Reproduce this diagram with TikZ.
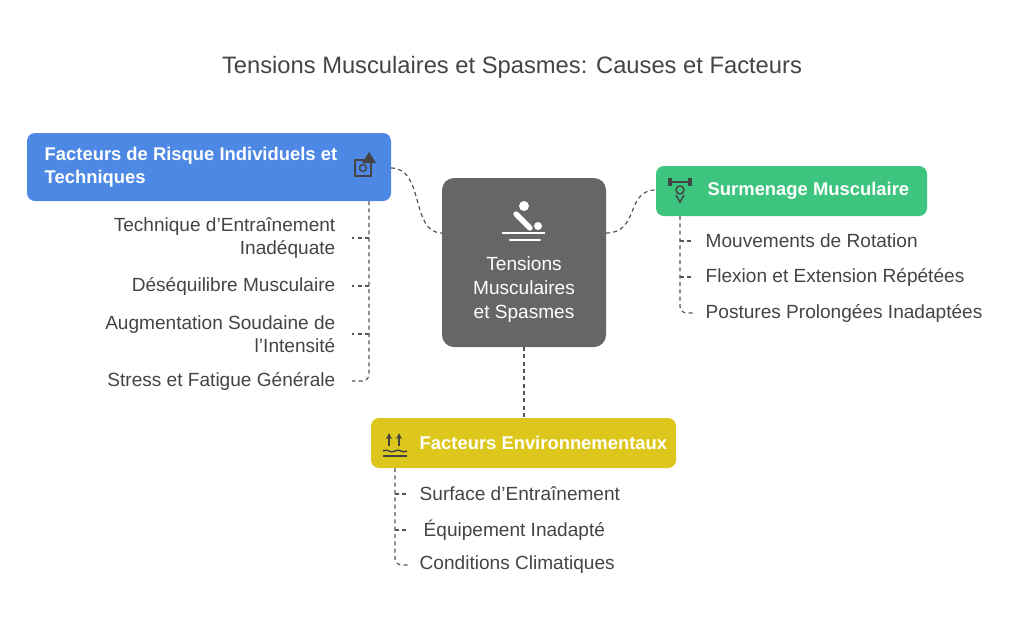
\documentclass[tikz,border=0pt]{standalone}
\usepackage{fontspec}
\setmainfont{Liberation Sans}
\usetikzlibrary{positioning}
\definecolor{boxblue}{HTML}{4D88E5}
\definecolor{boxgreen}{HTML}{3DC47E}
\definecolor{boxyellow}{HTML}{DDC71C}
\definecolor{boxgray}{HTML}{666666}
\definecolor{txt}{HTML}{444444}
\definecolor{lnk}{HTML}{555555}
\tikzset{
  box/.style={draw=none, rounded corners=6pt, anchor=north west},
  head/.style={text=white, font=\bfseries\fontsize{13.8}{17.5}\selectfont, align=left, anchor=west},
  item/.style={text=txt, font=\fontsize{14.3}{17.5}\selectfont},
  link/.style={draw=lnk, dashed, dash pattern=on 3pt off 2.5pt, line width=0.9pt},
  icon/.style={draw=txt, line width=1.1pt}
}
\begin{document}
\begin{tikzpicture}[x=0.75pt, y=-0.75pt]
\useasboundingbox (0,0) rectangle (1024,626);
% title
\node[text=txt, font=\fontsize{17.8}{20}\selectfont] (title) at (512,67) {Tensions Musculaires et Spasmes: Causes et Facteurs};
% boxes
\fill[boxblue, rounded corners=6pt] (27,133) rectangle (391,201);
\fill[boxgray, rounded corners=9pt] (442,178) rectangle (606,347);
\fill[boxgreen, rounded corners=6pt] (656,166) rectangle (927,216);
\fill[boxyellow, rounded corners=6pt] (371,418) rectangle (676,468);
% headings
\node[head] (hblue) at (40,167) {Facteurs de Risque Individuels et\\Techniques};
\node[text=white, font=\fontsize{14.3}{18}\selectfont, align=center] (hgray) at (524,290) {Tensions\\Musculaires\\et Spasmes};
\node[head] (hgreen) at (703,191) {Surmenage Musculaire};
\node[head] (hyellow) at (415,443) {Facteurs Environnementaux};
% icons
\begin{scope}[icon]
  % blue: target + triangle
  \draw (355,160) rectangle (371,176);
  \draw (363,168) circle (3.5);
  \fill[txt] (369,152) -- (376,163) -- (362,163) -- cycle;
  % gray: person on table
  \fill[white] (524,206) circle (5);
  \draw[white, line width=4pt, line cap=round] (516,214) -- (530,228);
  \draw[white, line width=2pt] (502,233) -- (545,233);
  \fill[white] (538,226) circle (4);
  \draw[white, line width=2pt, line cap=round] (510,240) -- (540,240);
  % green: weights
  \draw[line width=2pt] (670,182) -- (690,182);
  \fill[txt] (668,178) rectangle (672,186);
  \fill[txt] (688,178) rectangle (692,186);
  \draw (680,190) circle (4);
  \draw (676,195) -- (680,202) -- (684,195);
  % yellow: waves and arrows
  \draw[->, >=stealth] (389,446) -- (389,433);
  \draw[->, >=stealth] (399,446) -- (399,433);
  \draw (383,451) .. controls (388,448) and (390,454) .. (395,451) .. controls (400,448) and (402,454) .. (407,451);
  \draw (383,456) -- (407,456);
\end{scope}
% connectors between boxes
\coordinate (bR) at (391,168);
\coordinate (gL) at (442,233);
\coordinate (gR) at (606,233);
\coordinate (grL) at (656,190);
\coordinate (gB) at (524,347);
\coordinate (yT) at (524,418);
\draw[link] (bR) .. controls (425,168) and (410,233) .. (gL);
\draw[link] (gR) .. controls (640,233) and (625,190) .. (grL);
\draw[link] (gB) -- (yT);
% blue list
\node[item, anchor=east, align=right] (b1) at (340,238) {Technique d’Entraînement\\Inadéquate};
\node[item, anchor=east] (b2) at (340,286) {Déséquilibre Musculaire};
\node[item, anchor=east, align=right] (b3) at (340,334) {Augmentation Soudaine de\\l’Intensité};
\node[item, anchor=east] (b4) at (340,381) {Stress et Fatigue Générale};
\draw[link, rounded corners=5pt] (369,201) -- (369,381) -- (352,381);
\foreach \n in {b1,b2,b3} \draw[link] (369,0 |- \n.east) -- (352,0 |- \n.east);
% green list
\node[item, anchor=west] (g1) at (701,241) {Mouvements de Rotation};
\node[item, anchor=west] (g2) at (701,277) {Flexion et Extension Répétées};
\node[item, anchor=west] (g3) at (701,313) {Postures Prolongées Inadaptées};
\draw[link, rounded corners=5pt] (680,216) -- (680,313) -- (694,313);
\foreach \n in {g1,g2} \draw[link] (680,0 |- \n.west) -- (694,0 |- \n.west);
% yellow list
\node[item, anchor=west] (y1) at (415,494) {Surface d’Entraînement};
\node[item, anchor=west] (y2) at (419,530) {Équipement Inadapté};
\node[item, anchor=west] (y3) at (415,565) {Conditions Climatiques};
\draw[link, rounded corners=5pt] (395,468) -- (395,565) -- (409,565);
\foreach \n in {y1,y2} \draw[link] (395,0 |- \n.west) -- (409,0 |- \n.west);
\end{tikzpicture}
\end{document}
